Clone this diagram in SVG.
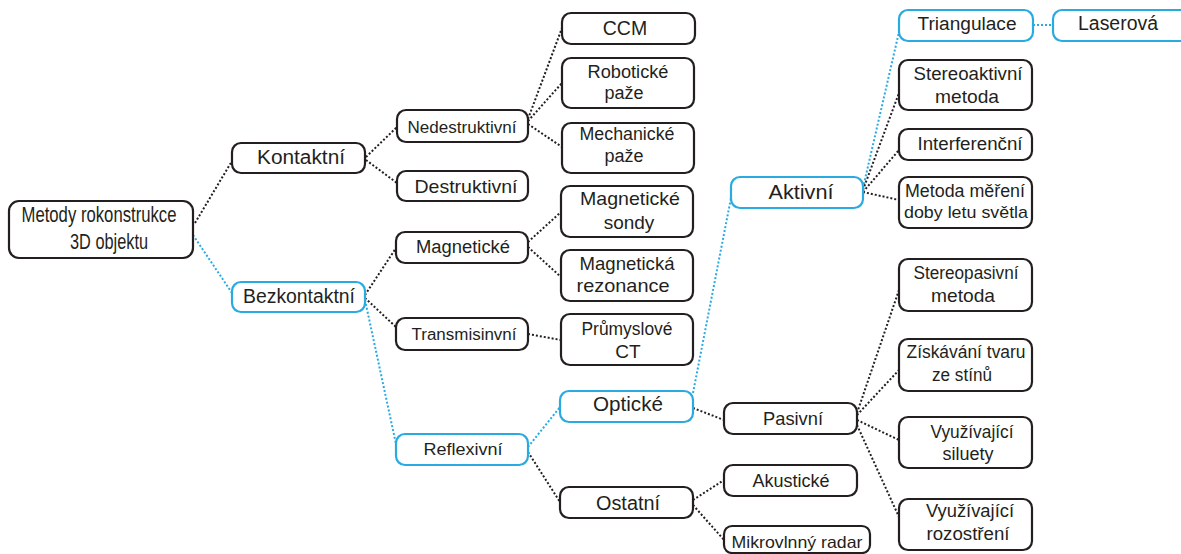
<svg xmlns="http://www.w3.org/2000/svg" width="1181" height="554" viewBox="0 0 1181 554">
<style>
.b{fill:#fff;stroke:#231f20;stroke-width:2.2}
.bl{fill:#fff;stroke:#29abe2;stroke-width:2.2}
.c{fill:none;stroke:#231f20;stroke-width:2;stroke-dasharray:2 2}
.cb{fill:none;stroke:#29abe2;stroke-width:2;stroke-dasharray:2 2}
text{font-family:"Liberation Sans",Arial,sans-serif;fill:#231f20;text-anchor:middle}
</style>
<rect width="1181" height="554" fill="#fff"/>
<g id="connectors">
<line class="c" x1="195" y1="223" x2="232" y2="161"/>
<line class="cb" x1="193" y1="235" x2="232" y2="293"/>
<line class="c" x1="366" y1="157" x2="397" y2="127"/>
<line class="c" x1="366" y1="160" x2="397" y2="183"/>
<line class="c" x1="528" y1="119" x2="562" y2="28"/>
<line class="c" x1="528" y1="121" x2="562" y2="83"/>
<line class="c" x1="528" y1="124" x2="562" y2="147"/>
<line class="c" x1="365" y1="295" x2="396" y2="248"/>
<line class="c" x1="365" y1="298" x2="396" y2="327"/>
<line class="cb" x1="365" y1="300" x2="396" y2="444"/>
<line class="c" x1="528" y1="242" x2="561" y2="212"/>
<line class="c" x1="528" y1="247" x2="561" y2="277"/>
<line class="c" x1="528" y1="334" x2="561" y2="340"/>
<line class="cb" x1="528" y1="447" x2="560" y2="407"/>
<line class="c" x1="528" y1="452" x2="560" y2="502"/>
<line class="cb" x1="693" y1="393" x2="731" y2="198"/>
<line class="c" x1="693" y1="408" x2="724" y2="420"/>
<line class="c" x1="693" y1="500" x2="724" y2="480"/>
<line class="c" x1="693" y1="505" x2="724" y2="540"/>
<line class="cb" x1="863" y1="188" x2="899" y2="32"/>
<line class="c" x1="863" y1="190" x2="899" y2="93"/>
<line class="c" x1="863" y1="192" x2="899" y2="150"/>
<line class="c" x1="863" y1="192" x2="899" y2="200"/>
<line class="cb" x1="1033" y1="25" x2="1053" y2="25"/>
<line class="c" x1="857" y1="413" x2="899" y2="290"/>
<line class="c" x1="857" y1="415" x2="899" y2="370"/>
<line class="c" x1="857" y1="420" x2="899" y2="440"/>
<line class="c" x1="857" y1="425" x2="899" y2="517"/>
</g>
<g id="root"><rect class="b" x="9" y="201" width="184" height="57" rx="10"/>
<text x="99" y="222" font-size="21.5" textLength="155" lengthAdjust="spacingAndGlyphs">Metody rokonstrukce</text>
<text x="109" y="249" font-size="21.5" textLength="78" lengthAdjust="spacingAndGlyphs">3D objektu</text></g>
<g id="kontaktni"><rect class="b" x="232" y="143" width="133" height="30" rx="9"/>
<text x="301" y="164" font-size="19.5" textLength="88" lengthAdjust="spacingAndGlyphs">Kontaktní</text></g>
<g id="bezkontaktni"><rect class="bl" x="232" y="282" width="133" height="30" rx="9"/>
<text x="299" y="303" font-size="19.5" textLength="112" lengthAdjust="spacingAndGlyphs">Bezkontaktní</text></g>
<g id="nedestruktivni"><rect class="b" x="397" y="110" width="131" height="32" rx="9"/>
<text x="462" y="133" font-size="16" textLength="109" lengthAdjust="spacingAndGlyphs">Nedestruktivní</text></g>
<g id="destruktivni"><rect class="b" x="397" y="171" width="131" height="30" rx="9"/>
<text x="466" y="193" font-size="18.5" textLength="103" lengthAdjust="spacingAndGlyphs">Destruktivní</text></g>
<g id="ccm"><rect class="b" x="562" y="13" width="133" height="31" rx="9"/>
<text x="625" y="35" font-size="19.5">CCM</text></g>
<g id="roboticke"><rect class="b" x="562" y="58" width="132" height="50" rx="9"/>
<text x="628" y="78" font-size="17.5" textLength="81" lengthAdjust="spacingAndGlyphs">Robotické</text>
<text x="624" y="99" font-size="18">paže</text></g>
<g id="mechanicke"><rect class="b" x="562" y="123" width="132" height="50" rx="9"/>
<text x="627" y="140" font-size="17.5" textLength="95" lengthAdjust="spacingAndGlyphs">Mechanické</text>
<text x="624" y="162" font-size="18">paže</text></g>
<g id="magneticke"><rect class="b" x="396" y="232" width="132" height="31" rx="9"/>
<text x="463" y="253" font-size="18" textLength="94" lengthAdjust="spacingAndGlyphs">Magnetické</text></g>
<g id="transmisinvni"><rect class="b" x="396" y="318" width="132" height="32" rx="9"/>
<text x="464" y="340" font-size="16" textLength="105" lengthAdjust="spacingAndGlyphs">Transmisinvní</text></g>
<g id="reflexivni"><rect class="bl" x="396" y="434" width="132" height="31" rx="9"/>
<text x="463" y="455" font-size="17" textLength="79" lengthAdjust="spacingAndGlyphs">Reflexivní</text></g>
<g id="magneticke-sondy"><rect class="b" x="561" y="186" width="132" height="51" rx="9"/>
<text x="630" y="205" font-size="18.5" textLength="100" lengthAdjust="spacingAndGlyphs">Magnetické</text>
<text x="629" y="229" font-size="19">sondy</text></g>
<g id="magneticka-rezonance"><rect class="b" x="561" y="250" width="132" height="51" rx="9"/>
<text x="627" y="270" font-size="18.5" textLength="95" lengthAdjust="spacingAndGlyphs">Magnetická</text>
<text x="623" y="292" font-size="18.5" textLength="93" lengthAdjust="spacingAndGlyphs">rezonance</text></g>
<g id="prumyslove-ct"><rect class="b" x="561" y="314" width="132" height="51" rx="9"/>
<text x="627" y="335" font-size="18" textLength="91" lengthAdjust="spacingAndGlyphs">Průmyslové</text>
<text x="628" y="358" font-size="19">CT</text></g>
<g id="opticke"><rect class="bl" x="560" y="391" width="133" height="31" rx="9"/>
<text x="628" y="411" font-size="19.5" textLength="70" lengthAdjust="spacingAndGlyphs">Optické</text></g>
<g id="ostatni"><rect class="b" x="560" y="487" width="133" height="31" rx="9"/>
<text x="628" y="510" font-size="19.5" textLength="64" lengthAdjust="spacingAndGlyphs">Ostatní</text></g>
<g id="aktivni"><rect class="bl" x="731" y="177" width="132" height="31" rx="9"/>
<text x="801" y="199" font-size="20" textLength="65" lengthAdjust="spacingAndGlyphs">Aktivní</text></g>
<g id="pasivni"><rect class="b" x="724" y="403" width="133" height="31" rx="9"/>
<text x="793" y="425" font-size="19" textLength="60" lengthAdjust="spacingAndGlyphs">Pasivní</text></g>
<g id="akusticke"><rect class="b" x="724" y="465" width="133" height="31" rx="9"/>
<text x="791" y="487" font-size="18" textLength="77" lengthAdjust="spacingAndGlyphs">Akustické</text></g>
<g id="mikrovlnny-radar"><rect class="b" x="724" y="526" width="146" height="27" rx="8"/>
<text x="797" y="548" font-size="16.5" textLength="131" lengthAdjust="spacingAndGlyphs">Mikrovlnný radar</text></g>
<g id="triangulace"><rect class="bl" x="899" y="10" width="134" height="31" rx="9"/>
<text x="967" y="30" font-size="18" textLength="99" lengthAdjust="spacingAndGlyphs">Triangulace</text></g>
<g id="laserova"><rect class="bl" x="1053" y="10" width="140" height="31" rx="9"/>
<text x="1118" y="30" font-size="19.5" textLength="80" lengthAdjust="spacingAndGlyphs">Laserová</text></g>
<g id="stereoaktivni"><rect class="b" x="899" y="60" width="133" height="50" rx="9"/>
<text x="968" y="80" font-size="18" textLength="109" lengthAdjust="spacingAndGlyphs">Stereoaktivní</text>
<text x="967" y="103" font-size="18.5" textLength="64" lengthAdjust="spacingAndGlyphs">metoda</text></g>
<g id="interferencni"><rect class="b" x="899" y="129" width="133" height="31" rx="9"/>
<text x="970" y="150" font-size="18" textLength="105" lengthAdjust="spacingAndGlyphs">Interferenční</text></g>
<g id="doba-letu"><rect class="b" x="899" y="177" width="133" height="51" rx="9"/>
<text x="965" y="197" font-size="17.5" textLength="120" lengthAdjust="spacingAndGlyphs">Metoda měření</text>
<text x="966" y="218" font-size="17" textLength="124" lengthAdjust="spacingAndGlyphs">doby letu světla</text></g>
<g id="stereopasivni"><rect class="b" x="899" y="259" width="133" height="52" rx="9"/>
<text x="966" y="279" font-size="17.5" textLength="105" lengthAdjust="spacingAndGlyphs">Stereopasivní</text>
<text x="963" y="302" font-size="18.5" textLength="64" lengthAdjust="spacingAndGlyphs">metoda</text></g>
<g id="ziskavani"><rect class="b" x="899" y="339" width="133" height="52" rx="9"/>
<text x="966" y="358" font-size="17.5" textLength="119" lengthAdjust="spacingAndGlyphs">Získávání tvaru</text>
<text x="962" y="381" font-size="17.5" textLength="60" lengthAdjust="spacingAndGlyphs">ze stínů</text></g>
<g id="siluety"><rect class="b" x="899" y="417" width="133" height="51" rx="9"/>
<text x="972" y="438" font-size="17.5" textLength="83" lengthAdjust="spacingAndGlyphs">Využívající</text>
<text x="968" y="460" font-size="18">siluety</text></g>
<g id="rozostreni"><rect class="b" x="899" y="499" width="133" height="51" rx="9"/>
<text x="970" y="517" font-size="17.5" textLength="88" lengthAdjust="spacingAndGlyphs">Využívající</text>
<text x="968" y="540" font-size="18" textLength="83" lengthAdjust="spacingAndGlyphs">rozostření</text></g>
</svg>
